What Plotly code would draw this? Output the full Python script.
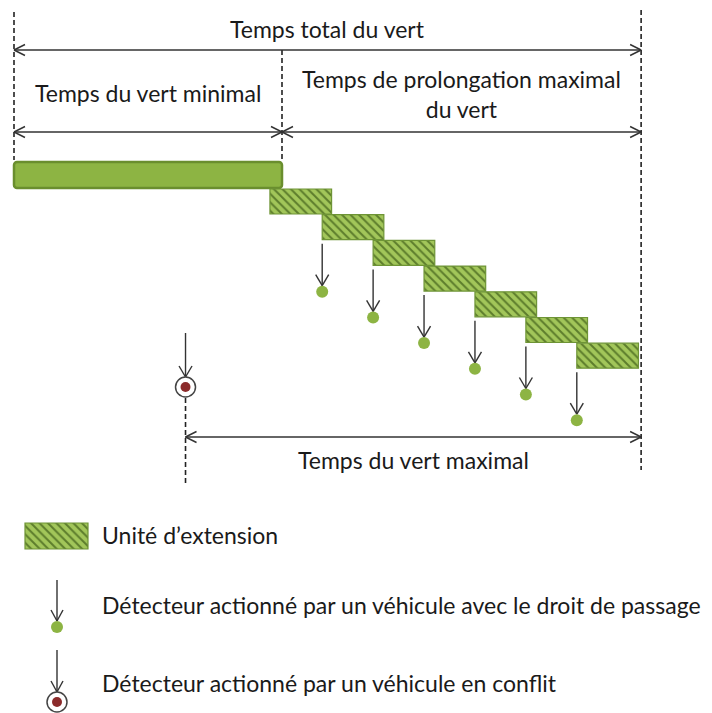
import plotly.graph_objects as go

# ---------------- data (seconds) ----------------
t_start = 0.0
min_green_end = 10.0
total_end = 23.4
conflict_call = 6.4
ext_starts = [9.55, 11.5, 13.4, 15.3, 17.2, 19.1, 21.0]
ext_width = 2.3
detections = [11.5, 13.4, 15.3, 17.2, 19.1, 21.0]

label_total = "Temps total du vert"
label_min = "Temps du vert minimal"
label_prolong = "Temps de prolongation maximal<br>du vert"
label_max = "Temps du vert maximal"
legend_labels = ["Unité d’extension",
                 "Détecteur actionné par un véhicule avec le droit de passage",
                 "Détecteur actionné par un véhicule en conflit"]

# ---------------- layout constants (pixels) ----------------
W, H = 712, 713
X0_PX = 14.0
PX_PER_S = 26.8
FONT = "Lato"
TXT = "#1a1a1a"
LINE = "#333333"
GREEN = "#8db443"
GREEN_DARK = "#6a8e2e"
HATCH_BG = "#a2c65a"
HATCH_FG = "#5d7d2c"
RED = "#8b2a2a"

def sx(px):
    return px / PX_PER_S

fig = go.Figure()

segs_x, segs_y = [], []
def seg(x0, y0, x1, y1):
    segs_x.extend([x0, x1, None]); segs_y.extend([y0, y1, None])

def harrow(t0, t1, y, hl=11, hw=5.5):
    seg(t0, y, t1, y)
    seg(t0 + sx(hl), y - hw, t0, y); seg(t0, y, t0 + sx(hl), y + hw)
    seg(t1 - sx(hl), y - hw, t1, y); seg(t1, y, t1 - sx(hl), y + hw)

def varrow(t, y0, y1, hl=11, hw=6.5):
    seg(t, y0, t, y1)
    seg(t - sx(hw), y1 - hl, t, y1); seg(t, y1, t + sx(hw), y1 - hl)

# horizontal dimension arrows
harrow(t_start, total_end, 50)
harrow(t_start, min_green_end, 132)
harrow(min_green_end, total_end, 132)
harrow(conflict_call, total_end, 437)

# step geometry
STEP_TOP0, STEP_H, STEP_DY = 189.0, 25.0, 25.7
ext_y = [STEP_TOP0 + STEP_H / 2 + i * STEP_DY for i in range(len(ext_starts))]

# detection arrows & dots
det_dot_y = []
for k, t in enumerate(detections):
    bottom = STEP_TOP0 + STEP_H + (k + 1) * STEP_DY
    dot_y = bottom + 52
    varrow(t, bottom + 4, dot_y - 6)
    det_dot_y.append(dot_y)

# conflict arrow
CONF_Y = 387
varrow(conflict_call, 333, CONF_Y - 10)

# dashed guide lines
dash = dict(color="#222222", width=1.6, dash="5px,3px")
for t, y0, y1 in [(t_start, 12, 160), (min_green_end, 50, 162),
                  (total_end, 10, 470), (conflict_call, CONF_Y + 11, 485)]:
    fig.add_shape(type="line", xref="x", yref="y", x0=t, x1=t, y0=y0, y1=y1,
                  line=dash, layer="below")

# minimal green bar
fig.add_trace(go.Bar(orientation="h", y=[175], x=[min_green_end - t_start],
                     base=[t_start], width=[26],
                     marker=dict(color=GREEN, line=dict(color=GREEN_DARK, width=2.5),
                                 cornerradius=3),
                     hoverinfo="skip", showlegend=False))

# extension units (hatched)
pattern = dict(shape="\\", size=6, solidity=0.33, fgcolor=HATCH_FG,
               bgcolor=HATCH_BG, fillmode="replace")
fig.add_trace(go.Bar(orientation="h", y=ext_y, x=[ext_width] * len(ext_starts),
                     base=ext_starts, width=[STEP_H] * len(ext_starts),
                     marker=dict(color=HATCH_BG, pattern=pattern,
                                 line=dict(color="#6e9436", width=1.2)),
                     hoverinfo="skip", showlegend=False))

# legend swatch (pixel axis x2)
fig.add_trace(go.Bar(orientation="h", y=[536], x=[63], base=[25], width=[26],
                     xaxis="x2", yaxis="y",
                     marker=dict(color=HATCH_BG, pattern=pattern,
                                 line=dict(color="#6e9436", width=1.2)),
                     hoverinfo="skip", showlegend=False))

# arrow lines
fig.add_trace(go.Scatter(x=segs_x, y=segs_y, mode="lines",
                         line=dict(color=LINE, width=1.4),
                         hoverinfo="skip", showlegend=False))

# legend arrows (pixel axis)
lx, ly = [], []
def lseg(x0, y0, x1, y1):
    lx.extend([x0, x1, None]); ly.extend([y0, y1, None])
for y0, y1 in [(580, 621), (650, 692)]:
    lseg(57, y0, 57, y1); lseg(51, y1 - 11, 57, y1); lseg(57, y1, 63, y1 - 11)
fig.add_trace(go.Scatter(x=lx, y=ly, mode="lines", xaxis="x2", yaxis="y",
                         line=dict(color=LINE, width=1.4),
                         hoverinfo="skip", showlegend=False))

# detection dots
fig.add_trace(go.Scatter(x=detections, y=det_dot_y, mode="markers",
                         marker=dict(size=12, color=GREEN, line=dict(width=0)),
                         hoverinfo="skip", showlegend=False))
fig.add_trace(go.Scatter(x=[57], y=[627], mode="markers", xaxis="x2", yaxis="y",
                         marker=dict(size=12, color=GREEN, line=dict(width=0)),
                         hoverinfo="skip", showlegend=False))

# conflict marker
fig.add_trace(go.Scatter(x=[conflict_call], y=[CONF_Y], mode="markers",
                         marker=dict(size=20, color="white", line=dict(color="#444", width=1.5)),
                         hoverinfo="skip", showlegend=False))
fig.add_trace(go.Scatter(x=[conflict_call], y=[CONF_Y], mode="markers",
                         marker=dict(size=10, color=RED, line=dict(width=0)),
                         hoverinfo="skip", showlegend=False))
fig.add_trace(go.Scatter(x=[57], y=[702], mode="markers", xaxis="x2", yaxis="y",
                         marker=dict(size=20, color="white", line=dict(color="#444", width=1.5)),
                         hoverinfo="skip", showlegend=False))
fig.add_trace(go.Scatter(x=[57], y=[702], mode="markers", xaxis="x2", yaxis="y",
                         marker=dict(size=10, color=RED, line=dict(width=0)),
                         hoverinfo="skip", showlegend=False))

# text labels
font = dict(family=FONT, size=23, color=TXT)
def label(text, x, y, xref="x", xanchor="center"):
    fig.add_annotation(text=text, x=x, y=y, xref=xref, yref="y", showarrow=False,
                       font=font, xanchor=xanchor, yanchor="middle", align="center")

label(label_total, (t_start + total_end) / 2, 29)
label(label_min, (t_start + min_green_end) / 2, 93)
label(label_prolong, (min_green_end + total_end) / 2, 94)
label(label_max, (conflict_call + total_end) / 2, 460)
for txt, y in zip(legend_labels, [535, 605, 683]):
    label(txt, 100, y, xref="x2", xanchor="left")

fig.update_layout(
    width=W, height=H, margin=dict(l=0, r=0, t=0, b=0),
    paper_bgcolor="white", plot_bgcolor="white", barmode="overlay",
    xaxis=dict(range=[-sx(X0_PX), sx(W - X0_PX)], visible=False, fixedrange=True),
    xaxis2=dict(range=[0, W], overlaying="x", visible=False, fixedrange=True),
    yaxis=dict(range=[H, 0], visible=False, fixedrange=True),
)

fig.write_html("out.html", post_script="document.body.style.margin='0';",
               config={"displayModeBar": False})
